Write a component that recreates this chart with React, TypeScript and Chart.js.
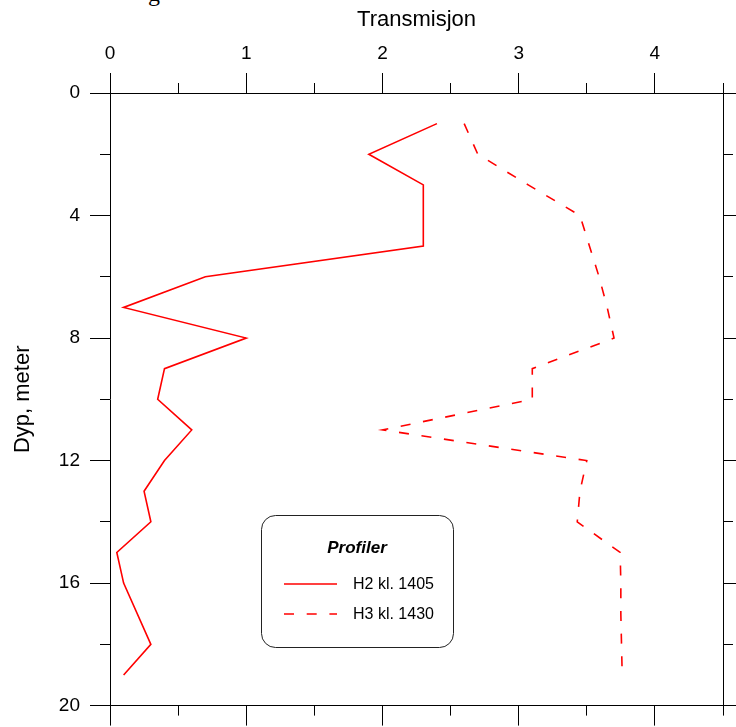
import React, { useEffect, useRef } from 'react';
import { Chart, registerables } from 'chart.js';

Chart.register(...registerables);

// ---- data ----
const depthsH2 = [1, 2, 3, 4, 5, 6, 7, 8, 9, 10, 11, 12, 13, 14, 15, 16, 18, 19];
const valuesH2 = [2.4, 1.9, 2.3, 2.3, 2.3, 0.7, 0.1, 1.0, 0.4, 0.35, 0.6, 0.4, 0.25, 0.3, 0.05, 0.1, 0.3, 0.1];
const depthsH3 = [1, 2, 3, 4, 5, 6, 7, 8, 9, 10, 11, 12, 13, 14, 15, 16, 17, 18, 19];
const valuesH3 = [2.6, 2.7, 3.07, 3.45, 3.52, 3.59, 3.65, 3.7, 3.1, 3.1, 2.0, 3.5, 3.45, 3.43, 3.745, 3.75, 3.75, 3.755, 3.76];
const seriesLabels = ['H2 kl. 1405', 'H3 kl. 1430'];
const legendTitle = 'Profiler';
const xTitle = 'Transmisjon';
const yTitle = 'Dyp, meter';
const xMin = 0;
const xMax = 4.5;
const xMajorStep = 1;
const xMinorStep = 0.5;
const yMin = 0;
const yMax = 20;
const yMajorStep = 4;
const yMinorStep = 2;

const FONT = '"Liberation Sans", Arial, Helvetica, sans-serif';

const toPoints = (xs: number[], ys: number[]) => xs.map((d, i) => ({ x: ys[i], y: d }));

const boxLegend = {
  id: 'boxLegend',
  afterDatasetsDraw(chart: any) {
    const { ctx, chartArea } = chart;
    const left = chartArea.left + 151;
    const top = chartArea.top + 422;
    const w = 192;
    const h = 132;
    ctx.save();
    ctx.beginPath();
    ctx.roundRect(left + 0.5, top + 0.5, w, h, 14);
    ctx.fillStyle = '#ffffff';
    ctx.fill();
    ctx.lineWidth = 1;
    ctx.strokeStyle = '#222';
    ctx.stroke();
    ctx.fillStyle = '#000';
    ctx.font = `bold italic 17px ${FONT}`;
    ctx.textAlign = 'center';
    ctx.textBaseline = 'middle';
    ctx.fillText(legendTitle, left + w / 2, top + 33);
    chart.data.datasets.forEach((ds: any, i: number) => {
      const y = top + 69 + i * 30;
      ctx.beginPath();
      ctx.strokeStyle = ds.borderColor;
      ctx.lineWidth = ds.borderWidth;
      ctx.setLineDash(ds.borderDash || []);
      ctx.moveTo(left + 23, y);
      ctx.lineTo(left + 76, y);
      ctx.stroke();
      ctx.setLineDash([]);
      ctx.fillStyle = '#000';
      ctx.font = `16px ${FONT}`;
      ctx.textAlign = 'left';
      ctx.textBaseline = 'middle';
      ctx.fillText(ds.label, left + 92, y + 1);
    });
    ctx.restore();
  },
};

export default function App() {
  const canvasRef = useRef<HTMLCanvasElement | null>(null);

  useEffect(() => {
    if (!canvasRef.current) return;
    Chart.defaults.font.family = FONT;
    Chart.defaults.color = '#000';
    const tickFont = { size: 19, family: FONT };
    const majorGrid = { drawOnChartArea: false, drawTicks: true, tickLength: 20, tickColor: '#000', tickWidth: 1 };
    const minorGrid = { drawOnChartArea: false, drawTicks: true, tickLength: 10, tickColor: '#000', tickWidth: 1 };
    const chart = new Chart(canvasRef.current, {
      type: 'scatter',
      data: {
        datasets: [
          {
            label: seriesLabels[0],
            data: toPoints(depthsH2, valuesH2),
            showLine: true,
            borderColor: '#ff0000',
            backgroundColor: '#ff0000',
            borderWidth: 1.6,
            pointRadius: 0,
            xAxisID: 'x',
            yAxisID: 'y',
          },
          {
            label: seriesLabels[1],
            data: toPoints(depthsH3, valuesH3),
            showLine: true,
            borderColor: '#ff0000',
            backgroundColor: '#ff0000',
            borderWidth: 1.6,
            borderDash: [10, 12.7],
            pointRadius: 0,
            xAxisID: 'x',
            yAxisID: 'y',
          },
        ],
      },
      options: {
        responsive: true,
        maintainAspectRatio: false,
        animation: false,
        layout: { padding: 0 },
        plugins: { legend: { display: false }, title: { display: false }, tooltip: { enabled: false } },
        scales: {
          x: {
            type: 'linear', position: 'top', min: xMin, max: xMax, weight: 1,
            ticks: { stepSize: xMajorStep, includeBounds: false, autoSkip: false, maxRotation: 0, padding: 8, font: tickFont, color: '#000' },
            grid: majorGrid,
            border: { display: true, color: '#000', width: 1 },
            title: { display: true, text: xTitle, color: '#000', font: { size: 22, family: FONT }, padding: { top: 7, bottom: 0 } },
            afterFit: (s: any) => { s.height = 93; },
          },
          xMinor: {
            type: 'linear', position: 'top', min: xMin, max: xMax, weight: 0,
            ticks: { stepSize: xMinorStep, display: false },
            grid: minorGrid,
            border: { display: false },
            afterFit: (s: any) => { s.height = 0; },
          },
          xb: {
            type: 'linear', position: 'bottom', min: xMin, max: xMax, weight: 1,
            ticks: { stepSize: xMajorStep, includeBounds: false, display: false },
            grid: majorGrid,
            border: { display: true, color: '#000', width: 1 },
            afterFit: (s: any) => { s.height = 19; },
          },
          xbMinor: {
            type: 'linear', position: 'bottom', min: xMin, max: xMax, weight: 0,
            ticks: { stepSize: xMinorStep, display: false },
            grid: minorGrid,
            border: { display: false },
            afterFit: (s: any) => { s.height = 0; },
          },
          y: {
            type: 'linear', position: 'left', reverse: true, min: yMin, max: yMax, weight: 1,
            ticks: { stepSize: yMajorStep, autoSkip: false, padding: 10, font: tickFont, color: '#000' },
            grid: majorGrid,
            border: { display: true, color: '#000', width: 1 },
            title: { display: true, text: yTitle, color: '#000', font: { size: 22, family: FONT }, padding: { top: 10, bottom: 0 } },
            afterFit: (s: any) => { s.width = 110; },
          },
          yMinor: {
            type: 'linear', position: 'left', reverse: true, min: yMin, max: yMax, weight: 0,
            ticks: { stepSize: yMinorStep, display: false },
            grid: minorGrid,
            border: { display: false },
            afterFit: (s: any) => { s.width = 0; },
          },
          yr: {
            type: 'linear', position: 'right', reverse: true, min: yMin, max: yMax, weight: 1,
            ticks: { stepSize: yMajorStep, display: false },
            grid: majorGrid,
            border: { display: true, color: '#000', width: 1 },
            afterFit: (s: any) => { s.width = 13; },
          },
          yrMinor: {
            type: 'linear', position: 'right', reverse: true, min: yMin, max: yMax, weight: 0,
            ticks: { stepSize: yMinorStep, display: false },
            grid: minorGrid,
            border: { display: false },
            afterFit: (s: any) => { s.width = 0; },
          },
        },
      } as any,
      plugins: [boxLegend],
    });
    return () => chart.destroy();
  }, []);

  return (
    <>
      <div
        style={{
          position: 'absolute', left: 148, top: -19, fontFamily: '"Liberation Serif", "DejaVu Serif", serif',
          fontSize: 24, lineHeight: '24px', color: '#000', whiteSpace: 'nowrap',
        }}
      >
        g
      </div>
      <div style={{ position: 'absolute', left: 0, top: 0, width: 736, height: 727 }}>
        <canvas ref={canvasRef} />
      </div>
    </>
  );
}
